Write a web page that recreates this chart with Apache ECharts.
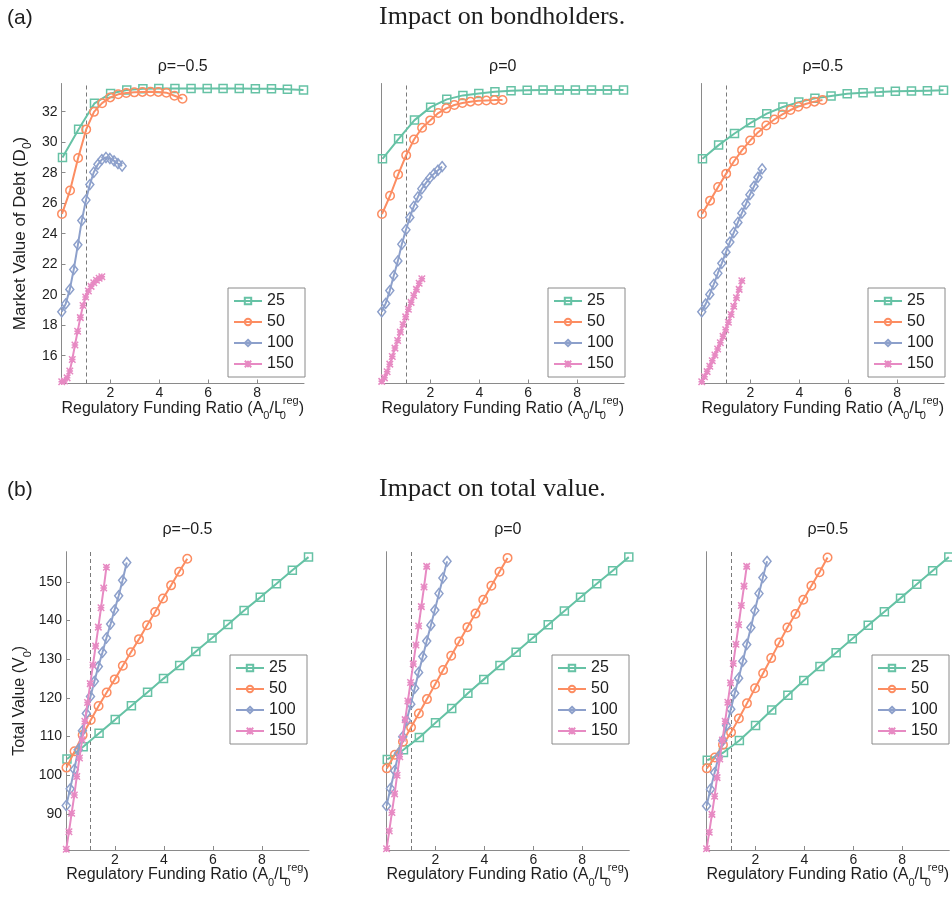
<!DOCTYPE html>
<html>
<head>
<meta charset="utf-8">
<script src="https://cdn.jsdelivr.net/npm/echarts@6/dist/echarts.min.js"></script>
<style>
  html, body { margin: 0; padding: 0; background: #ffffff; }
  #chart { width: 952px; height: 900px; }
</style>
</head>
<body>
<div id="chart"></div>
<script>
// Legend entries (one line per setting)
const seriesNames = ['25', '50', '100', '150'];

// Regulatory funding ratio A0/L0reg at which each line is evaluated
const x25  = [0.04, 0.70, 1.35, 2.01, 2.67, 3.33, 3.98, 4.64, 5.30, 5.96, 6.61, 7.27, 7.93, 8.59, 9.24, 9.90];
const x50  = [0.02, 0.35, 0.68, 1.01, 1.33, 1.66, 1.99, 2.32, 2.65, 2.98, 3.31, 3.64, 3.96, 4.29, 4.62, 4.95];
const x100 = [0.01, 0.17, 0.34, 0.50, 0.67, 0.83, 1.00, 1.16, 1.32, 1.49, 1.65, 1.82, 1.98, 2.15, 2.31, 2.48];
const x150 = [0.01, 0.12, 0.23, 0.34, 0.44, 0.55, 0.66, 0.77, 0.88, 0.99, 1.10, 1.21, 1.32, 1.43, 1.54, 1.65];

// (a) Market value of debt D0
const debt25RhoNeg  = [29.0, 30.85, 32.55, 33.2, 33.42, 33.5, 33.52, 33.53, 33.53, 33.53, 33.52, 33.52, 33.5, 33.5, 33.48, 33.42];
const debt50RhoNeg  = [25.3, 26.83, 28.97, 30.84, 31.99, 32.56, 32.94, 33.14, 33.23, 33.27, 33.3, 33.31, 33.3, 33.25, 33.05, 32.85];
const debt100RhoNeg = [18.88, 19.4, 20.35, 21.65, 23.27, 24.86, 26.21, 27.22, 28.03, 28.55, 28.86, 29.0, 28.93, 28.78, 28.6, 28.44];
const debt150RhoNeg = [14.3, 14.35, 14.55, 15.0, 15.75, 16.7, 17.6, 18.5, 19.3, 19.85, 20.25, 20.55, 20.78, 20.95, 21.08, 21.18];

const debt25RhoZero  = [28.91, 30.22, 31.45, 32.3, 32.81, 33.07, 33.2, 33.31, 33.38, 33.41, 33.42, 33.42, 33.42, 33.42, 33.42, 33.42];
const debt50RhoZero  = [25.29, 26.49, 27.88, 29.15, 30.18, 30.95, 31.43, 31.91, 32.22, 32.44, 32.57, 32.66, 32.72, 32.74, 32.76, 32.77];
const debt100RhoZero = [18.88, 19.43, 20.27, 21.25, 22.22, 23.31, 24.26, 25.07, 25.79, 26.41, 26.95, 27.33, 27.66, 27.94, 28.16, 28.4];
const debt150RhoZero = [14.32, 14.55, 14.95, 15.45, 15.95, 16.5, 17.0, 17.55, 18.05, 18.55, 19.05, 19.5, 19.95, 20.35, 20.75, 21.05];

const debt25RhoPos  = [28.91, 29.81, 30.57, 31.27, 31.87, 32.31, 32.63, 32.88, 33.03, 33.18, 33.25, 33.29, 33.34, 33.36, 33.38, 33.4];
const debt50RhoPos  = [25.29, 26.17, 27.06, 27.94, 28.75, 29.48, 30.11, 30.66, 31.1, 31.49, 31.82, 32.11, 32.33, 32.52, 32.66, 32.77];
const debt100RhoPos = [18.88, 19.39, 20.02, 20.68, 21.41, 22.06, 22.79, 23.45, 24.08, 24.74, 25.35, 25.95, 26.56, 27.11, 27.7, 28.25];
const debt150RhoPos = [14.3, 14.62, 14.96, 15.31, 15.67, 16.05, 16.44, 16.85, 17.27, 17.7, 18.2, 18.7, 19.25, 19.8, 20.35, 20.92];

// (b) Total value V0
const total25RhoNeg  = [104.2, 107.4, 110.9, 114.4, 118.0, 121.5, 125.0, 128.4, 132.0, 135.5, 139.0, 142.6, 146.0, 149.5, 153.0, 156.4];
const total50RhoNeg  = [102.0, 106.2, 110.4, 114.3, 117.9, 121.4, 124.8, 128.3, 131.8, 135.2, 138.8, 142.2, 145.7, 149.1, 152.6, 156.0];
const total100RhoNeg = [92.2, 96.5, 101.5, 106.6, 111.5, 116.0, 120.4, 124.3, 128.1, 131.8, 135.5, 139.1, 142.7, 146.4, 150.4, 155.0];
const total150RhoNeg = [80.9, 85.4, 90.2, 94.9, 99.7, 104.5, 109.2, 114.0, 118.8, 123.7, 128.5, 133.4, 138.3, 143.3, 148.4, 153.8];

const total25RhoZero  = [104.1, 106.6, 109.8, 113.6, 117.3, 121.2, 124.8, 128.4, 131.8, 135.4, 138.9, 142.5, 146.0, 149.5, 152.9, 156.4];
const total50RhoZero  = [101.8, 105.3, 108.7, 112.4, 116.0, 119.7, 123.5, 127.2, 130.9, 134.6, 138.3, 141.8, 145.4, 149.0, 152.6, 156.2];
const total100RhoZero = [92.1, 96.6, 101.2, 105.7, 110.0, 114.2, 118.4, 122.5, 126.6, 130.7, 134.7, 138.8, 142.7, 147.0, 151.0, 155.3];
const total150RhoZero = [81.0, 85.6, 90.4, 95.2, 100.0, 104.8, 109.6, 114.4, 119.2, 124.0, 128.8, 133.7, 138.6, 143.6, 148.7, 154.0];

const total25RhoPos  = [103.9, 105.9, 109.0, 112.9, 116.9, 120.7, 124.5, 128.1, 131.7, 135.3, 138.8, 142.3, 145.8, 149.4, 152.9, 156.4];
const total50RhoPos  = [101.8, 104.6, 107.9, 111.1, 114.7, 118.6, 122.5, 126.4, 130.3, 134.3, 138.2, 141.7, 145.4, 149.0, 152.5, 156.3];
const total100RhoPos = [92.1, 96.4, 100.7, 104.8, 109.0, 112.9, 117.1, 121.2, 125.1, 129.5, 133.8, 138.2, 142.6, 147.0, 151.1, 155.3];
const total150RhoPos = [81.0, 85.3, 89.9, 94.6, 99.4, 104.2, 109.1, 114.0, 118.9, 123.9, 128.9, 133.9, 138.9, 143.9, 148.9, 154.0];

// Panel titles and tick labels
const rhoTitles = ['ρ=−0.5', 'ρ=0', 'ρ=0.5'];
const xTicks = [2, 4, 6, 8];
const debtTicks = [16, 18, 20, 22, 24, 26, 28, 30, 32];
const totalTicks = [90, 100, 110, 120, 130, 140, 150];
const regulatoryLine = 1;

// ---- styling ----
const FONT = '"Liberation Sans", Arial, Helvetica, sans-serif';
const SERIF = '"Liberation Serif", "Times New Roman", serif';
const AXIS_GRAY = '#8a8a8a';
const TEXT = '#1e1e1e';
const COLORS = ['#66c2a5', '#fc8d62', '#8da0cb', '#e78ac3'];
const ASTERISK = 'path://M0,0L10,10M10,0L0,10M5,0L5,10M0,5L10,5';
const SYMBOLS = ['rect', 'circle', 'diamond', ASTERISK];
const SYMBOL_SIZES = [8, 8.5, [8, 10], 6.5];

const xGrids = [x25, x50, x100, x150];

const rows = [
  {
    top: 83.5, height: 300, lefts: [61.5, 381.5, 701.5], width: 242.5,
    yMin: 14.18, yMax: 33.85, ticks: debtTicks,
    yName: 'Market Value of Debt (D{s|0})', yNameSize: 17, yNameGap: 28,
    legendLefts: [228, 548, 868], legendTop: 288,
    label: '(a)', heading: 'Impact on bondholders.', headY: 17, rhoY: 67,
    panels: [
      [debt25RhoNeg, debt50RhoNeg, debt100RhoNeg, debt150RhoNeg],
      [debt25RhoZero, debt50RhoZero, debt100RhoZero, debt150RhoZero],
      [debt25RhoPos, debt50RhoPos, debt100RhoPos, debt150RhoPos]
    ]
  },
  {
    top: 551.7, height: 298.3, lefts: [66, 386.3, 706.3], width: 243,
    yMin: 80.7, yMax: 157.8, ticks: totalTicks,
    yName: 'Total Value (V{s|0})', yNameSize: 16, yNameGap: 33,
    legendLefts: [230, 552, 872], legendTop: 655,
    label: '(b)', heading: 'Impact on total value.', headY: 489, rhoY: 530,
    panels: [
      [total25RhoNeg, total50RhoNeg, total100RhoNeg, total150RhoNeg],
      [total25RhoZero, total50RhoZero, total100RhoZero, total150RhoZero],
      [total25RhoPos, total50RhoPos, total100RhoPos, total150RhoPos]
    ]
  }
];

function nameStyle(size) {
  const small = Math.round(size * 0.7);
  return {
    fontSize: size, lineHeight: 26, color: TEXT, fontFamily: FONT,
    rich: {
      s:  { fontSize: small, lineHeight: 12, verticalAlign: 'bottom', fontFamily: FONT, color: TEXT },
      s0: { fontSize: small, lineHeight: 12, verticalAlign: 'bottom', width: 0, fontFamily: FONT, color: TEXT },
      p:  { fontSize: small, lineHeight: 12, verticalAlign: 'top', fontFamily: FONT, color: TEXT }
    }
  };
}

const grid = [], xAxis = [], yAxis = [], series = [], legend = [], graphic = [];

rows.forEach((row) => {
  graphic.push({
    type: 'text', x: 7, y: row.headY + 1,
    style: { text: row.label, fontSize: 21, fontFamily: FONT, fill: TEXT, align: 'left', verticalAlign: 'middle' }
  });
  graphic.push({
    type: 'text', x: 379, y: row.headY,
    style: { text: row.heading, fontSize: 26, fontFamily: SERIF, fill: TEXT, align: 'left', verticalAlign: 'middle' }
  });

  row.panels.forEach((values, c) => {
    const idx = grid.length;
    const first = c === 0;
    grid.push({ left: row.lefts[c], top: row.top, width: row.width, height: row.height });

    graphic.push({
      type: 'text', x: row.lefts[c] + row.width / 2, y: row.rhoY,
      style: { text: rhoTitles[c], fontSize: 16, fontFamily: FONT, fill: TEXT, align: 'center', verticalAlign: 'middle' }
    });

    xAxis.push({
      type: 'value', gridIndex: idx, min: 0, max: 9.92,
      axisLine: { show: true, onZero: false, lineStyle: { color: AXIS_GRAY, width: 1 } },
      axisTick: { show: true, inside: true, length: 4, customValues: xTicks, lineStyle: { color: AXIS_GRAY } },
      axisLabel: { show: true, customValues: xTicks, fontSize: 14, color: TEXT, fontFamily: FONT, margin: 3 },
      splitLine: { show: false },
      name: 'Regulatory Funding Ratio (A{s|0}/L{s0|0}{p|reg})',
      nameLocation: 'middle', nameGap: 12, nameMoveOverlap: false, nameTextStyle: nameStyle(16)
    });

    yAxis.push({
      type: 'value', gridIndex: idx, min: row.yMin, max: row.yMax,
      axisLine: { show: true, onZero: false, lineStyle: { color: AXIS_GRAY, width: 1 } },
      axisTick: { show: first, inside: true, length: 4, customValues: row.ticks, lineStyle: { color: AXIS_GRAY } },
      axisLabel: { show: first, customValues: row.ticks, fontSize: 14, color: TEXT, fontFamily: FONT, margin: 4 },
      splitLine: { show: false },
      name: first ? row.yName : '',
      nameLocation: 'middle', nameGap: row.yNameGap, nameMoveOverlap: false,
      nameTextStyle: nameStyle(row.yNameSize)
    });

    legend.push({
      orient: 'vertical', left: row.legendLefts[c], top: row.legendTop,
      data: seriesNames, selectedMode: false,
      itemWidth: 28, itemHeight: 8, itemGap: 5,
      padding: [5, 4, 5, 5],
      borderColor: AXIS_GRAY, borderWidth: 1, backgroundColor: '#ffffff',
      textStyle: { fontSize: 16, lineHeight: 16, color: TEXT, fontFamily: FONT, width: 34 }
    });

    seriesNames.forEach((name, k) => {
      const s = {
        type: 'line', name: name, xAxisIndex: idx, yAxisIndex: idx,
        data: xGrids[k].map((xv, i) => [xv, values[k][i]]),
        symbol: SYMBOLS[k], symbolSize: SYMBOL_SIZES[k], showAllSymbol: true,
        lineStyle: { color: COLORS[k], width: 2 },
        itemStyle: { color: 'rgba(255,255,255,0)', borderColor: COLORS[k], borderWidth: 1.5 },
        emphasis: { disabled: true },
        z: 3 + k
      };
      if (k === 0) {
        s.markLine = {
          silent: true, symbol: 'none', z: 1,
          label: { show: false },
          lineStyle: { color: '#7a7a7a', type: [4, 3], width: 1 },
          data: [{ xAxis: regulatoryLine }]
        };
      }
      series.push(s);
    });
  });
});

const chart = echarts.init(document.getElementById('chart'), null, { renderer: 'canvas' });
chart.setOption({
  animation: false,
  backgroundColor: '#ffffff',
  grid, xAxis, yAxis, series, legend, graphic
});
</script>
</body>
</html>
